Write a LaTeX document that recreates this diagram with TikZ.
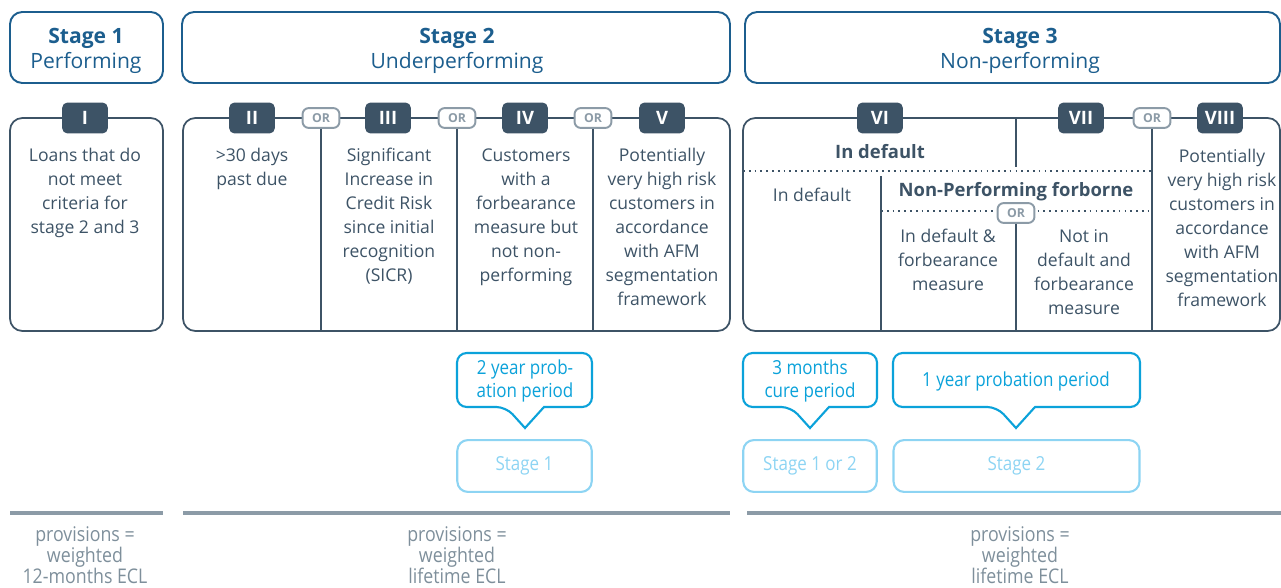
\documentclass[tikz,border=0pt]{standalone}
\usepackage{fontspec}
\setmainfont{Open Sans}
\newfontfamily\condfont[FakeStretch=0.88]{Open Sans}
\usepackage{xcolor}
\definecolor{Navy}{HTML}{1C5E8E}
\definecolor{Slate}{HTML}{3D5366}
\definecolor{Mist}{HTML}{8C9BA7}
\definecolor{Cyan}{HTML}{0BA2DA}
\definecolor{Sky}{HTML}{8DD4F3}
\definecolor{Ash}{HTML}{7E8F9B}

\begin{document}
\begin{tikzpicture}[x=0.02cm,y=-0.02cm,
  hdr/.style={draw=Navy,line width=1.1pt,rounded corners=7pt},
  hdrtxt/.style={text=Navy,font=\fontsize{12}{14.7}\selectfont,align=center,anchor=base,inner sep=0pt},
  frame/.style={draw=Slate,line width=1pt,rounded corners=7pt},
  divider/.style={draw=Slate,line width=1pt},
  dots/.style={draw=Slate,line width=1pt,dash pattern=on 1pt off 2.3pt},
  badge/.style={fill=Slate,text=white,font=\fontsize{10.5}{12}\selectfont\bfseries,rounded corners=3pt,minimum width=26pt,minimum height=17.6pt,inner sep=0pt},
  orbadge/.style={draw=Mist,fill=white,text=Mist,line width=1.1pt,font=\fontsize{7}{8}\selectfont\bfseries,rounded corners=3.5pt,minimum width=21pt,minimum height=11.3pt,inner sep=0pt},
  txt/.style={text=Slate,font=\fontsize{10}{13.6}\selectfont,align=center,anchor=base,inner sep=0pt},
  callout/.style={draw=Cyan,line width=1.2pt,fill=white},
  caltxt/.style={text=Cyan,font=\condfont\fontsize{11}{13}\selectfont,align=center,inner sep=0pt},
  after/.style={draw=Sky,line width=1.2pt,rounded corners=6pt,text=Sky,font=\condfont\fontsize{11}{13}\selectfont,minimum height=29.5pt,inner sep=0pt},
  rule/.style={draw=Mist,line width=1.8pt},
  foot/.style={text=Ash,font=\condfont\fontsize{11.5}{11.9}\selectfont,align=center,anchor=base,inner sep=0pt}]
  \useasboundingbox (0,0) rectangle (1281,588);
  \clip (0,0) rectangle (1281,588);

  % stage headers (base = last line)
  \draw[hdr] (10,12) rectangle (163,83);
  \draw[hdr] (182,12) rectangle (730,83);
  \draw[hdr] (745,12) rectangle (1280,83);
  \node[hdrtxt] (hdrone) at (86,69) {\textbf{Stage 1}\\Performing};
  \node[hdrtxt] (hdrtwo) at (457,69) {\textbf{Stage 2}\\Underperforming};
  \node[hdrtxt] (hdrthree) at (1020,69) {\textbf{Stage 3}\\Non-performing};

  % criteria frames
  \draw[frame] (10,118) rectangle (163,331);
  \draw[frame] (183,118) rectangle (730,331);
  \draw[frame] (743,118) rectangle (1280,331);
  \coordinate (botline) at (0,331);
  \coordinate (splitT) at (1016,118);
  \coordinate (splitB) at (1016,167);
  \coordinate (dotL) at (743,171);
  \coordinate (dotR) at (1153,171);
  \coordinate (subL) at (881,211);
  \coordinate (subR) at (1153,211);
  \coordinate (colTop) at (881,176);

  \draw[dots] (dotL) -- (dotR);
  \draw[dots] (subL) -- (subR);
  \draw[divider] (splitT) -- (splitB);
  \draw[divider] (colTop) -- (colTop |- botline);

  % badges
  \node[badge] (bI) at (85,118) {I};
  \node[badge] (bII) at (252,118) {II};
  \node[badge] (bIII) at (388,118) {III};
  \node[badge] (bIV) at (525,118) {IV};
  \node[badge] (bV) at (662,118) {V};
  \node[badge] (bVI) at (880,118) {VI};
  \node[badge] (bVII) at (1081,118) {VII};
  \node[badge] (bVIII) at (1220,118) {VIII};
  \node[orbadge] (orA) at (321,118) {OR};
  \node[orbadge] (orB) at (457,118) {OR};
  \node[orbadge] (orC) at (593,118) {OR};
  \node[orbadge] (orD) at (1152,118) {OR};
  \node[orbadge] (orE) at (1016,213) {OR};
  \draw[divider] (orA.south) -- (orA.south |- botline);
  \draw[divider] (orB.south) -- (orB.south |- botline);
  \draw[divider] (orC.south) -- (orC.south |- botline);
  \draw[divider] (orD.south) -- (orD.south |- botline);
  \draw[divider] (orE.south) -- (orE.south |- botline);

  % criteria texts (base = last line)
  \node[txt] (tI) at (85,233) {Loans that do\\not meet\\criteria for\\stage 2 and 3};
  \node[txt] (tII) at (252,185) {>30 days\\past due};
  \node[txt] (tIII) at (389,281) {Significant\\Increase in\\Credit Risk\\since initial\\recognition\\(SICR)};
  \node[txt] (tIV) at (526,281) {Customers\\with a\\forbearance\\measure but\\not non-\\performing};
  \node[txt] (tV) at (662,305) {Potentially\\very high risk\\customers in\\accordance\\with AFM\\segmentation\\framework};
  \node[txt,font=\fontsize{10.5}{13.6}\selectfont\bfseries] (tdef) at (880,158) {In default};
  \node[txt] (tVI) at (812,201) {In default};
  \node[txt,font=\fontsize{10.5}{13.6}\selectfont\bfseries] (tnpf) at (1016,196) {Non-Performing forborne};
  \node[txt] (tVIIa) at (948,290) {In default \&\\forbearance\\measure};
  \node[txt] (tVIIb) at (1084,314) {Not in\\default and\\forbearance\\measure};
  \node[txt] (tVIII) at (1222,306) {Potentially\\very high risk\\customers in\\accordance\\with AFM\\segmentation\\framework};

  % exit periods
  \draw[callout] (544,407) [rounded corners=5.5pt] -- (592,407) -- (592,353) -- (457,353) -- (457,407) -- (506,407) [sharp corners] -- (525,428) -- cycle;
  \draw[callout] (829,407) [rounded corners=5.5pt] -- (877,407) -- (877,353) -- (743,353) -- (743,407) -- (791,407) [sharp corners] -- (810,428) -- cycle;
  \draw[callout] (1035,407) [rounded corners=5.5pt] -- (1140,407) -- (1140,353) -- (893,353) -- (893,407) -- (997,407) [sharp corners] -- (1016,428) -- cycle;
  \node[caltxt] (calA) at (525,381) {2 year prob-\\ation period};
  \node[caltxt] (calB) at (810,381) {3 months\\cure period};
  \node[caltxt] (calC) at (1016,381) {1 year probation period};

  \node[after,minimum width=76.5pt] (nxtA) at (524.5,466) {Stage 1};
  \node[after,minimum width=76pt] (nxtB) at (810,466) {Stage 1 or 2};
  \node[after,minimum width=140pt] (nxtC) at (1016.5,466) {Stage 2};

  % provisions
  \draw[rule] (10,513) -- (163,513);
  \draw[rule] (183,513) -- (730,513);
  \draw[rule] (747,513) -- (1281,513);
  \node[foot] (pone) at (85,583) {provisions =\\weighted\\12-months ECL};
  \node[foot] (ptwo) at (457,583) {provisions =\\weighted\\lifetime ECL};
  \node[foot] (pthree) at (1020,583) {provisions =\\weighted\\lifetime ECL};
\end{tikzpicture}
\end{document}
